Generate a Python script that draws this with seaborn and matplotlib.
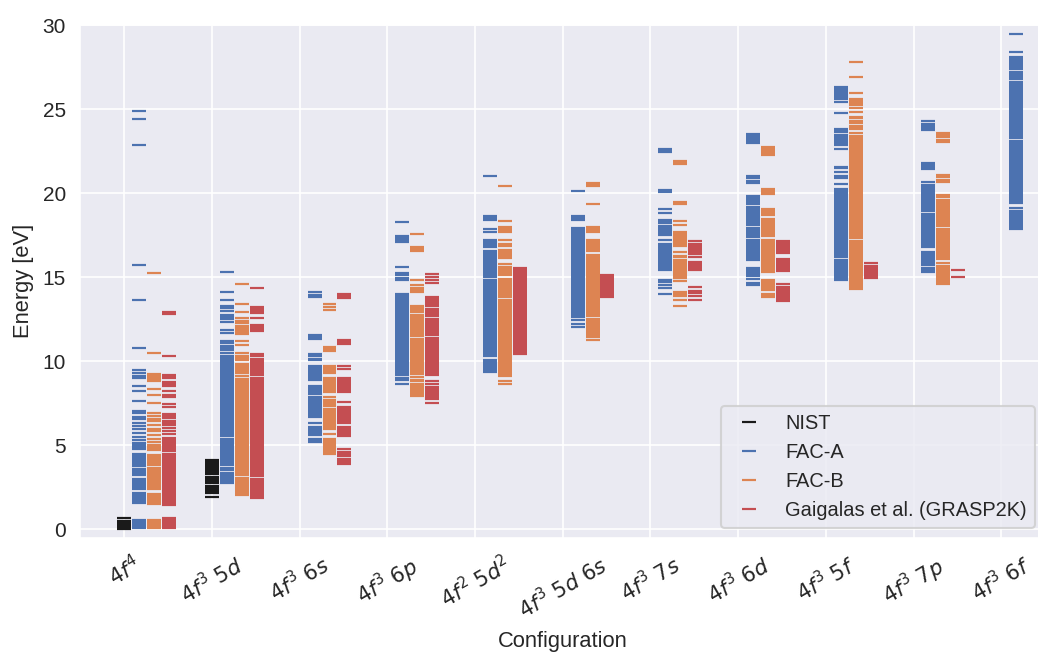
import matplotlib
matplotlib.use("Agg")
import matplotlib.pyplot as plt
import pandas as pd
import seaborn as sns

configs = [r"$4f^4$", r"$4f^3\ 5d$", r"$4f^3\ 6s$", r"$4f^3\ 6p$", r"$4f^2\ 5d^2$",
           r"$4f^3\ 5d\ 6s$", r"$4f^3\ 7s$", r"$4f^3\ 6d$", r"$4f^3\ 5f$",
           r"$4f^3\ 7p$", r"$4f^3\ 6f$"]
series = ["NIST", "FAC-A", "FAC-B", "Gaigalas et al. (GRASP2K)"]
colors = ["#1a1a1a", "#4C72B0", "#DD8452", "#C44E52"]
offsets = [0.0, 0.17, 0.34, 0.51]

# Energy levels [eV], one list per configuration
nist = [
    [0.0, 0.13, 0.26, 0.39, 0.52, 0.65],
    [1.92, 2.17, 2.30, 2.40, 2.50, 2.60, 2.75, 2.85, 3.00, 3.10, 3.27, 3.35, 3.48,
     3.60, 3.72, 3.85, 3.95, 4.05, 4.15],
    [], [], [], [], [], [], [], [], [],
]

fac_a = [
    [0.05, 0.18, 0.30, 0.42, 0.53, 1.55, 1.66, 1.78, 1.90, 2.02, 2.14, 2.40, 2.52, 2.64,
     2.76, 2.88, 3.00, 3.20, 3.36, 3.48, 3.60, 3.78, 3.90, 4.02, 4.14, 4.26, 4.38, 4.50,
     4.79, 4.91, 5.03, 5.15, 5.31, 5.50, 5.74, 5.94, 6.14, 6.34, 6.57, 6.69, 6.89, 7.03,
     7.64, 8.20, 8.55, 9.00, 9.12, 9.31, 9.47, 10.79, 13.62, 15.72, 22.89, 24.38, 24.91],
    [2.73, 2.85, 2.97, 3.09, 3.20, 3.37, 3.50, 3.62, 3.80, 3.96, 4.08, 4.20, 4.32, 4.44,
     4.56, 4.68, 4.80, 4.92, 5.04, 5.16, 5.28, 5.40, 5.52, 5.64, 5.76, 5.88, 6.00, 6.12,
     6.24, 6.36, 6.48, 6.60, 6.72, 6.84, 6.96, 7.08, 7.20, 7.32, 7.44, 7.56, 7.68, 7.80,
     7.92, 8.04, 8.16, 8.28, 8.40, 8.52, 8.64, 8.76, 8.88, 9.00, 9.12, 9.24, 9.36, 9.48,
     9.60, 9.72, 9.84, 9.96, 10.08, 10.20, 10.30, 10.50, 10.65, 10.79, 10.93, 11.07,
     11.21, 11.68, 11.88, 12.32, 12.50, 12.65, 12.77, 13.00, 13.15, 13.27, 13.66, 14.10,
     15.29],
    [5.19, 5.30, 5.40, 5.58, 5.70, 5.84, 5.98, 6.10, 6.34, 6.69, 6.81, 6.93, 7.05, 7.17,
     7.29, 7.39, 7.52, 7.64, 7.76, 7.88, 8.02, 8.12, 8.24, 8.36, 8.48, 8.55, 8.87, 8.99,
     9.11, 9.23, 9.35, 9.47, 9.60, 9.74, 10.06, 10.16, 10.30, 10.44, 11.33, 11.45, 11.58,
     13.80, 13.95, 14.10],
    [8.67, 8.91, 9.03, 9.15, 9.27, 9.35, 9.47, 9.60, 9.73, 9.86, 9.94, 10.06, 10.18,
     10.30, 10.42, 10.54, 10.66, 10.78, 10.90, 11.02, 11.14, 11.26, 11.38, 11.50, 11.62,
     11.74, 11.86, 11.98, 12.10, 12.22, 12.34, 12.46, 12.58, 12.70, 12.82, 12.94, 13.06,
     13.18, 13.30, 13.42, 13.54, 13.66, 13.76, 13.88, 14.00, 14.81, 14.95, 15.10, 15.25,
     15.58, 17.11, 17.20, 17.35, 17.47, 18.26],
    [9.35, 9.50, 9.60, 9.72, 9.85, 9.98, 10.10, 10.30, 10.42, 10.54, 10.66, 10.78, 10.90,
     11.02, 11.14, 11.26, 11.38, 11.50, 11.62, 11.74, 11.86, 11.98, 12.10, 12.22, 12.34,
     12.46, 12.58, 12.70, 12.82, 12.94, 13.06, 13.18, 13.30, 13.42, 13.54, 13.66, 13.78,
     13.90, 14.02, 14.14, 14.26, 14.38, 14.50, 14.62, 14.74, 14.86, 14.98, 15.10, 15.22,
     15.35, 15.49, 15.60, 15.72, 15.84, 15.94, 16.06, 16.18, 16.30, 16.44, 16.57, 16.79,
     16.90, 17.01, 17.12, 17.23, 17.66, 17.86, 18.38, 18.50, 18.65, 20.99],
    [12.04, 12.22, 12.48, 12.60, 12.72, 12.84, 12.96, 13.08, 13.20, 13.32, 13.44, 13.56,
     13.68, 13.80, 13.92, 14.04, 14.16, 14.28, 14.40, 14.52, 14.64, 14.76, 14.88, 15.00,
     15.12, 15.24, 15.36, 15.48, 15.60, 15.72, 15.84, 15.96, 16.08, 16.20, 16.32, 16.44,
     16.53, 16.65, 16.77, 16.89, 17.01, 17.13, 17.25, 17.33, 17.43, 17.55, 17.67, 17.80,
     17.92, 18.38, 18.50, 18.65, 20.10],
    [14.00, 14.36, 14.53, 14.69, 14.85, 15.45, 15.57, 15.69, 15.81, 15.93, 16.00, 16.14,
     16.26, 16.38, 16.50, 16.62, 16.74, 16.86, 16.99, 17.19, 17.52, 17.64, 17.75, 17.87,
     17.95, 18.07, 18.20, 18.32, 18.42, 18.81, 19.05, 20.04, 20.20, 22.42, 22.52, 22.61],
    [14.53, 14.65, 14.89, 15.05, 15.21, 15.33, 15.45, 15.54, 16.04, 16.16, 16.28, 16.40,
     16.52, 16.64, 16.76, 16.88, 17.00, 17.12, 17.24, 17.36, 17.48, 17.60, 17.72, 17.84,
     17.92, 18.12, 18.24, 18.36, 18.48, 18.60, 18.72, 18.84, 18.96, 19.08, 19.17, 19.37,
     19.49, 19.61, 19.73, 19.80, 20.63, 20.75, 20.87, 20.99, 22.97, 23.09, 23.21, 23.33,
     23.45, 23.52],
    [14.85, 14.97, 15.09, 15.21, 15.33, 15.45, 15.57, 15.69, 15.81, 15.93, 16.05, 16.17,
     16.29, 16.41, 16.53, 16.65, 16.77, 16.89, 17.01, 17.13, 17.25, 17.37, 17.49, 17.61,
     17.73, 17.85, 17.97, 18.09, 18.21, 18.33, 18.45, 18.57, 18.69, 18.81, 18.93, 19.05,
     19.17, 19.29, 19.41, 19.53, 19.65, 19.77, 19.89, 20.00, 20.10, 20.26, 20.53, 20.87,
     21.03, 21.27, 21.47, 21.58, 22.61, 22.87, 22.99, 23.11, 23.23, 23.35, 23.45, 23.66,
     23.78, 23.84, 24.75, 25.45, 25.58, 25.74, 25.86, 25.98, 26.10, 26.20, 26.30],
    [15.29, 15.41, 15.54, 15.70, 15.82, 15.94, 16.06, 16.18, 16.30, 16.42, 16.50, 16.79,
     16.91, 17.03, 17.15, 17.27, 17.39, 17.51, 17.63, 17.75, 17.87, 17.99, 18.11, 18.23,
     18.35, 18.47, 18.59, 18.71, 18.77, 18.91, 19.03, 19.15, 19.27, 19.39, 19.51, 19.63,
     19.75, 19.87, 19.99, 20.06, 20.14, 20.26, 20.38, 20.50, 20.65, 21.43, 21.55, 21.67,
     21.82, 23.78, 23.90, 24.02, 24.14, 24.30],
    [17.88, 18.00, 18.12, 18.24, 18.36, 18.48, 18.60, 18.72, 18.84, 18.96, 19.11, 19.41,
     19.53, 19.65, 19.77, 19.89, 20.01, 20.13, 20.25, 20.37, 20.49, 20.61, 20.73, 20.85,
     20.97, 21.09, 21.21, 21.33, 21.45, 21.57, 21.69, 21.81, 21.93, 22.05, 22.17, 22.29,
     22.41, 22.53, 22.65, 22.77, 22.89, 23.01, 23.13, 23.25, 23.37, 23.49, 23.61, 23.73,
     23.85, 23.97, 24.09, 24.21, 24.33, 24.45, 24.57, 24.69, 24.81, 24.93, 25.05, 25.17,
     25.29, 25.41, 25.53, 25.65, 25.77, 25.90, 26.04, 26.16, 26.28, 26.40, 26.52, 26.64,
     26.76, 26.88, 27.00, 27.10, 27.19, 27.37, 27.49, 27.61, 27.73, 27.85, 27.97, 28.08,
     28.42, 29.47],
]

fac_b = [
    [0.05, 0.18, 0.30, 0.43, 0.55, 1.49, 1.60, 1.72, 1.84, 1.96, 2.08, 2.38, 2.50, 2.62,
     2.74, 2.86, 2.98, 3.10, 3.22, 3.34, 3.46, 3.52, 3.66, 3.80, 3.92, 4.04, 4.16, 4.28,
     4.40, 4.71, 4.83, 4.95, 5.03, 5.19, 5.39, 5.62, 5.82, 5.98, 6.18, 6.42, 6.57, 6.73,
     6.89, 7.49, 8.00, 8.34, 8.80, 8.92, 9.00, 9.12, 9.25, 10.51, 15.23],
    [2.02, 2.14, 2.26, 2.38, 2.50, 2.62, 2.74, 2.86, 2.98, 3.07, 3.21, 3.33, 3.45, 3.57,
     3.69, 3.81, 3.93, 4.05, 4.17, 4.29, 4.41, 4.53, 4.65, 4.77, 4.89, 5.01, 5.13, 5.25,
     5.37, 5.49, 5.61, 5.73, 5.85, 5.97, 6.09, 6.21, 6.33, 6.45, 6.57, 6.69, 6.81, 6.93,
     7.05, 7.17, 7.29, 7.41, 7.53, 7.65, 7.77, 7.89, 8.01, 8.13, 8.25, 8.37, 8.49, 8.61,
     8.73, 8.85, 8.97, 9.10, 9.30, 9.42, 9.54, 9.66, 9.78, 9.86, 10.10, 10.20, 10.32,
     10.50, 10.97, 11.21, 11.62, 11.74, 11.86, 11.98, 12.08, 12.28, 12.40, 12.55, 12.95,
     13.41, 14.59],
    [4.50, 4.60, 4.71, 4.85, 4.97, 5.09, 5.19, 5.25, 5.39, 5.64, 5.98, 6.10, 6.22, 6.34,
     6.46, 6.58, 6.70, 6.82, 6.94, 7.06, 7.18, 7.33, 7.41, 7.52, 7.62, 7.72, 7.86, 8.16,
     8.28, 8.40, 8.52, 8.64, 8.76, 8.88, 9.01, 9.31, 9.41, 9.53, 9.65, 9.74, 10.63, 10.75,
     10.85, 13.07, 13.20, 13.41],
    [7.92, 8.02, 8.18, 8.30, 8.42, 8.54, 8.66, 8.81, 8.91, 9.05, 9.21, 9.31, 9.43, 9.55,
     9.67, 9.79, 9.91, 10.03, 10.15, 10.27, 10.39, 10.51, 10.63, 10.75, 10.87, 10.99,
     11.11, 11.23, 11.35, 11.47, 11.59, 11.71, 11.83, 11.95, 12.07, 12.19, 12.31, 12.43,
     12.55, 12.67, 12.77, 12.91, 13.03, 13.15, 13.31, 14.10, 14.26, 14.38, 14.51, 14.85,
     16.57, 16.67, 16.77, 17.56],
    [8.65, 8.85, 9.11, 9.23, 9.35, 9.47, 9.59, 9.71, 9.83, 9.95, 10.07, 10.19, 10.31,
     10.43, 10.55, 10.67, 10.79, 10.91, 11.03, 11.15, 11.27, 11.39, 11.51, 11.63, 11.75,
     11.87, 11.99, 12.11, 12.23, 12.35, 12.47, 12.59, 12.71, 12.83, 12.95, 13.07, 13.19,
     13.31, 13.43, 13.55, 13.67, 13.79, 13.91, 14.03, 14.15, 14.27, 14.39, 14.55, 14.61,
     14.73, 14.85, 14.91, 15.15, 15.27, 15.39, 15.51, 15.63, 15.80, 16.14, 16.26, 16.38,
     16.50, 16.63, 16.87, 16.99, 17.19, 17.66, 17.78, 17.90, 17.96, 18.32, 20.40],
    [11.29, 11.41, 11.49, 11.58, 11.70, 11.82, 11.94, 12.06, 12.18, 12.30, 12.42, 12.54,
     12.66, 12.78, 12.90, 13.02, 13.14, 13.26, 13.38, 13.50, 13.62, 13.74, 13.86, 13.98,
     14.10, 14.22, 14.34, 14.46, 14.58, 14.70, 14.82, 14.94, 15.06, 15.18, 15.30, 15.42,
     15.54, 15.66, 15.74, 15.80, 15.92, 16.04, 16.16, 16.28, 16.34, 16.57, 16.69, 16.79,
     16.87, 16.99, 17.09, 17.19, 17.66, 17.78, 17.90, 17.98, 19.37, 20.44, 20.56, 20.63],
    [13.27, 13.62, 13.90, 14.00, 14.10, 14.79, 14.95, 15.07, 15.19, 15.29, 15.45, 15.57,
     15.69, 15.81, 15.93, 16.05, 16.17, 16.28, 16.48, 16.83, 16.95, 17.07, 17.19, 17.31,
     17.43, 17.55, 17.66, 18.10, 18.32, 19.37, 19.50, 21.74, 21.84, 21.94],
    [13.80, 13.90, 14.00, 14.22, 14.36, 14.46, 14.58, 14.70, 14.85, 15.29, 15.41, 15.53,
     15.65, 15.77, 15.89, 16.01, 16.13, 16.25, 16.37, 16.49, 16.61, 16.73, 16.85, 16.97,
     17.09, 17.23, 17.43, 17.55, 17.67, 17.79, 17.91, 18.03, 18.15, 18.27, 18.39, 18.46,
     18.67, 18.79, 18.91, 19.07, 19.92, 20.04, 20.16, 20.26, 22.26, 22.38, 22.50, 22.62,
     22.77],
    [14.30, 14.42, 14.54, 14.66, 14.78, 14.90, 15.02, 15.14, 15.26, 15.38, 15.50, 15.62,
     15.74, 15.86, 15.98, 16.10, 16.22, 16.34, 16.46, 16.58, 16.70, 16.82, 16.94, 17.06,
     17.18, 17.30, 17.42, 17.54, 17.66, 17.78, 17.90, 18.02, 18.14, 18.26, 18.38, 18.50,
     18.62, 18.74, 18.86, 18.98, 19.10, 19.22, 19.34, 19.46, 19.58, 19.70, 19.82, 19.94,
     20.06, 20.18, 20.30, 20.42, 20.54, 20.66, 20.78, 20.90, 21.02, 21.14, 21.26, 21.38,
     21.50, 21.62, 21.74, 21.86, 21.98, 22.10, 22.22, 22.34, 22.46, 22.58, 22.70, 22.82,
     22.94, 23.06, 23.18, 23.30, 23.42, 23.60, 23.80, 23.90, 24.00, 24.16, 24.32, 24.44,
     24.55, 24.85, 25.09, 25.25, 25.37, 25.50, 25.62, 25.94, 26.93, 27.78],
    [14.59, 14.71, 14.83, 14.95, 15.07, 15.19, 15.31, 15.43, 15.55, 15.67, 15.82, 16.08,
     16.20, 16.32, 16.44, 16.56, 16.68, 16.80, 16.92, 17.04, 17.16, 17.28, 17.40, 17.52,
     17.64, 17.76, 17.88, 18.06, 18.18, 18.30, 18.42, 18.54, 18.66, 18.78, 18.90, 19.02,
     19.14, 19.26, 19.35, 19.50, 19.62, 19.74, 19.90, 20.69, 20.81, 20.93, 21.09, 23.07,
     23.19, 23.31, 23.43, 23.56],
    [],
]

grasp2k = [
    [0.05, 0.18, 0.30, 0.45, 0.57, 0.69, 1.43, 1.55, 1.67, 1.79, 1.91, 2.03, 2.15, 2.27,
     2.39, 2.51, 2.63, 2.75, 2.87, 2.99, 3.11, 3.23, 3.35, 3.47, 3.59, 3.71, 3.83, 3.95,
     4.07, 4.19, 4.31, 4.43, 4.50, 4.65, 4.74, 4.86, 4.98, 5.10, 5.22, 5.34, 5.46, 5.66,
     5.86, 6.02, 6.22, 6.30, 6.45, 6.60, 6.73, 6.85, 7.25, 7.45, 7.88, 8.00, 8.20, 8.51,
     8.63, 8.75, 8.99, 9.09, 9.19, 10.30, 12.80, 12.95],
    [1.86, 1.98, 2.10, 2.18, 2.30, 2.42, 2.54, 2.66, 2.78, 2.90, 3.02, 3.14, 3.26, 3.38,
     3.50, 3.62, 3.74, 3.86, 3.98, 4.10, 4.22, 4.34, 4.46, 4.58, 4.70, 4.82, 4.94, 5.06,
     5.18, 5.30, 5.42, 5.54, 5.66, 5.78, 5.90, 6.02, 6.14, 6.26, 6.38, 6.50, 6.62, 6.74,
     6.86, 6.98, 7.10, 7.22, 7.34, 7.46, 7.58, 7.70, 7.82, 7.94, 8.06, 8.18, 8.30, 8.42,
     8.50, 8.67, 8.79, 8.91, 9.03, 9.15, 9.30, 9.42, 9.54, 9.66, 9.78, 9.90, 10.02, 10.14,
     10.30, 10.44, 11.78, 11.90, 12.02, 12.18, 12.57, 12.87, 12.97, 13.10, 13.23, 14.34],
    [3.86, 3.98, 4.10, 4.20, 4.36, 4.48, 4.60, 4.75, 5.54, 5.66, 5.78, 5.90, 6.00, 6.10,
     6.34, 6.46, 6.58, 6.70, 6.82, 6.94, 7.06, 7.18, 7.29, 7.56, 8.16, 8.28, 8.40, 8.52,
     8.64, 8.76, 8.88, 9.01, 9.54, 9.74, 11.05, 11.15, 11.25, 13.76, 13.88, 14.02],
    [7.52, 7.76, 7.88, 8.00, 8.12, 8.24, 8.36, 8.48, 8.65, 8.81, 9.15, 9.27, 9.39, 9.51,
     9.63, 9.75, 9.87, 9.99, 10.11, 10.23, 10.35, 10.47, 10.59, 10.71, 10.83, 10.95,
     11.07, 11.19, 11.31, 11.39, 11.58, 11.70, 11.82, 11.94, 12.06, 12.18, 12.30, 12.42,
     12.54, 12.66, 12.78, 12.90, 13.02, 13.13, 13.27, 13.37, 13.47, 13.59, 13.71, 13.82,
     14.65, 14.81, 15.01, 15.19],
    [10.40, 10.52, 10.64, 10.76, 10.88, 11.00, 11.12, 11.24, 11.36, 11.48, 11.60, 11.72,
     11.84, 11.96, 12.08, 12.20, 12.32, 12.44, 12.56, 12.68, 12.80, 12.92, 13.04, 13.16,
     13.28, 13.40, 13.52, 13.64, 13.76, 13.88, 14.00, 14.12, 14.24, 14.36, 14.48, 14.60,
     14.72, 14.84, 14.96, 15.08, 15.20, 15.32, 15.44, 15.54],
    [13.82, 13.94, 14.06, 14.18, 14.30, 14.42, 14.54, 14.66, 14.78, 14.90, 15.02, 15.15],
    [13.62, 13.86, 14.06, 14.16, 14.42, 15.40, 15.52, 15.64, 15.76, 15.90, 16.20, 16.40,
     16.52, 16.64, 16.76, 16.88, 17.00, 17.13],
    [13.56, 13.68, 13.80, 13.92, 14.04, 14.16, 14.28, 14.40, 14.57, 15.39, 15.51, 15.63,
     15.75, 15.87, 15.99, 16.08, 16.44, 16.56, 16.68, 16.80, 16.92, 17.04, 17.15],
    [14.95, 15.07, 15.19, 15.31, 15.43, 15.55, 15.67, 15.84],
    [15.01, 15.41],
    [],
]

sns.set_style("darkgrid")
plt.rcParams["font.family"] = ["Liberation Sans", "DejaVu Sans"]
plt.rcParams["font.size"] = 10

rows = []
for name, levels, off in zip(series, [nist, fac_a, fac_b, grasp2k], offsets):
    for i, lv in enumerate(levels):
        for e in lv:
            rows.append((name, i + off, e))
df = pd.DataFrame(rows, columns=["series", "x", "Energy"])

fig = plt.figure(figsize=(6.92, 4.367), dpi=150)
ax = fig.add_axes([0.0775, 0.1791, 0.9293, 0.7826])
sns.scatterplot(data=df, x="x", y="Energy", hue="series", hue_order=series,
                palette=colors, marker="_", s=45, linewidth=1.05, alpha=1.0, ax=ax)
ax.set_xlim(-0.5, 10.5)
ax.set_ylim(-0.5, 30)
ax.set_yticks([0, 5, 10, 15, 20, 25, 30])
ax.set_xticks(range(len(configs)))
ax.set_xticklabels(configs, rotation=30)
ax.set_xlabel("Configuration", fontsize=10.5)
ax.set_ylabel("Energy [eV]", fontsize=10.5)
sns.move_legend(ax, "lower right", title=None, fontsize=9.6)
fig.savefig("out.png", dpi=150)
